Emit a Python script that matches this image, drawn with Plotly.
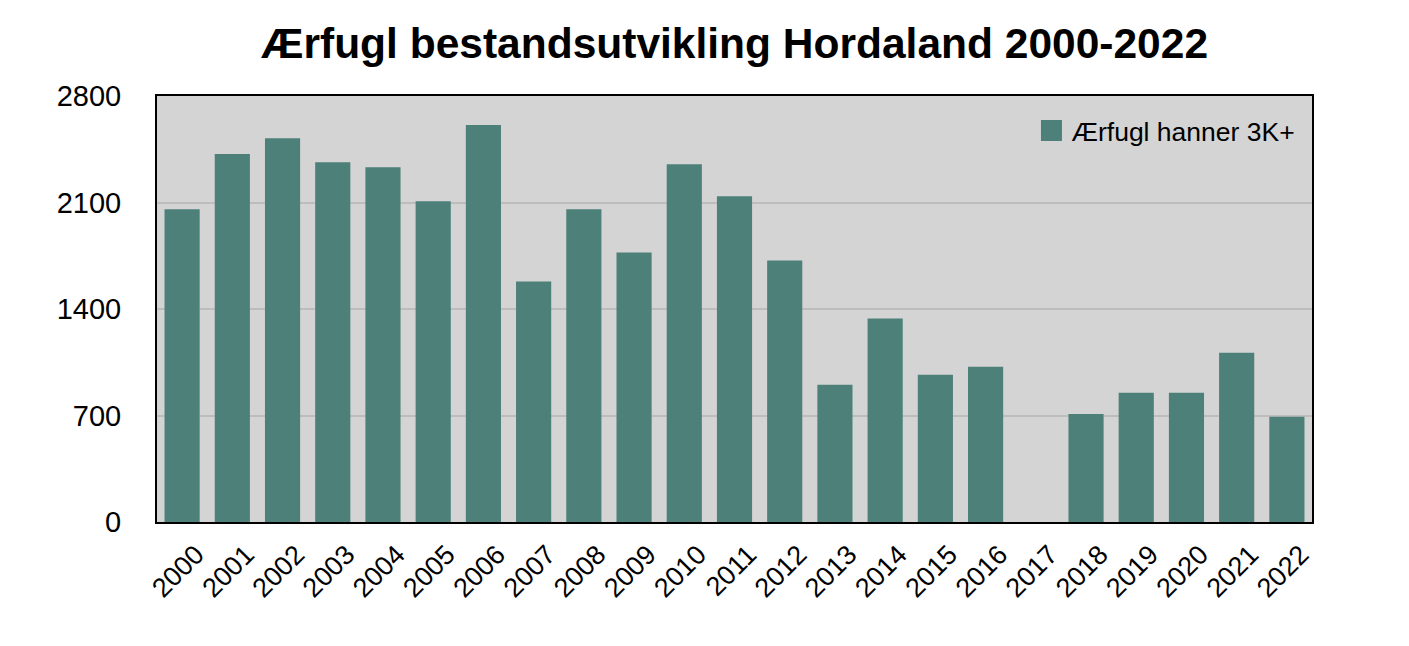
import plotly.graph_objects as go

# year labels along the x axis (2017 has no count)
years = ['2000', '2001', '2002', '2003', '2004', '2005', '2006', '2007',
         '2008', '2009', '2010', '2011', '2012', '2013', '2014', '2015',
         '2016', '2017', '2018', '2019', '2020', '2021', '2022']

# counted males 3K+ per year
hanner = [2055, 2418, 2523, 2365, 2332, 2108, 2609, 1581,
          2055, 1772, 2352, 2141, 1719, 902, 1337, 968,
          1020, None, 710, 849, 849, 1113, 691]

y_ticks = [0, 700, 1400, 2100, 2800]

FONT = "Liberation Sans, Arial, Helvetica, sans-serif"
BAR_COLOR = '#4d8078'

fig = go.Figure()
fig.add_trace(go.Bar(x=years, y=hanner, name='Ærfugl hanner 3K+',
                     showlegend=False,
                     marker=dict(color=BAR_COLOR, line_width=0)))
# legend entry only, with a bigger square than the default bar swatch
fig.add_trace(go.Scatter(x=[None], y=[None], mode='markers',
                         name='Ærfugl hanner 3K+',
                         marker=dict(symbol='square', size=16, color=BAR_COLOR,
                                     line=dict(color=BAR_COLOR, width=5))))

# the page has an 8px body margin, so margins are trimmed to compensate
fig.update_layout(
    width=1409, height=646,
    margin=dict(l=149, r=105, t=88, b=132),
    paper_bgcolor='white',
    plot_bgcolor='#d4d4d4',
    bargap=0.3,
    font=dict(family=FONT, color='black'),
    title=dict(text='<b>Ærfugl bestandsutvikling Hordaland 2000-2022</b>',
               x=0.5, xref='paper', xanchor='center',
               y=1 - 35 / 646, yref='container', yanchor='middle',
               font=dict(size=42.5, family=FONT, color='black')),
    showlegend=True,
    legend=dict(x=0.99, xanchor='right', y=0.975, yanchor='top',
                bgcolor='rgba(0,0,0,0)', font=dict(size=26.5),
                itemsizing='trace'),
)

fig.update_xaxes(
    type='category',
    tickangle=-45,
    tickfont=dict(size=27),
    showline=True, linecolor='black', linewidth=2, mirror=True,
    showgrid=False, ticks='',
    ticklabelshift=14,
    ticklabelstandoff=4,
)

fig.update_yaxes(
    range=[0, 2800],
    tickvals=y_ticks,
    tickfont=dict(size=29),
    showline=True, linecolor='black', linewidth=2, mirror=True,
    showgrid=True, gridcolor='#bdbdbd', gridwidth=1.5,
    zeroline=False, ticks='',
    ticklabelstandoff=28,
)

fig.write_html("out.html")
